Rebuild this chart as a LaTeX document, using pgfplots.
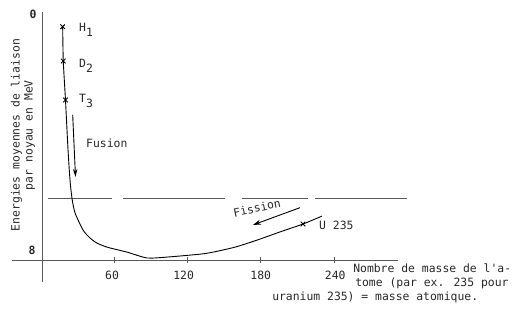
\documentclass[border=0pt]{standalone}
\usepackage{pgfplots}
\pgfplotsset{compat=1.18}
\usepackage{fontspec}
\setmainfont[Ligatures=TeXOff]{DejaVu Sans Mono}
\usetikzlibrary{arrows.meta}
\definecolor{ink}{RGB}{40,40,40}
\definecolor{pencil}{RGB}{90,90,90}
\begin{document}
\begin{tikzpicture}[every node/.style={font=\fontsize{11.4bp}{13bp}\selectfont, text=ink, inner sep=0pt}]
\begin{axis}[
  width=517bp, height=309bp, scale only axis,
  xmin=-33.27, xmax=389.7,
  ymin=-0.4786, ymax=10.085, y dir=reverse,
  hide axis, clip=false,
]
\path (rel axis cs:0,0) rectangle (rel axis cs:1,1);
% axes
\addplot[pencil, line width=0.8bp] coordinates {(-23.4,8.41) (292.4,8.41)};
\addplot[pencil, line width=0.8bp] coordinates {(1.09,-0.068) (1.09,9.16)};
% ticks
\addplot[pencil, line width=0.8bp] coordinates {(60,8.31) (60,8.51)};
\addplot[pencil, line width=0.8bp] coordinates {(120,8.31) (120,8.51)};
\addplot[pencil, line width=0.8bp] coordinates {(180,8.31) (180,8.51)};
\addplot[pencil, line width=0.8bp] coordinates {(240,8.31) (240,8.51)};
% dashed reference line
\addplot[pencil, line width=0.7bp] coordinates {(6.0,6.29) (58.4,6.29)};
\addplot[pencil, line width=0.7bp] coordinates {(67.4,6.29) (150.8,6.29)};
\addplot[pencil, line width=0.7bp] coordinates {(164.7,6.29) (218.7,6.29)};
\addplot[pencil, line width=0.7bp] coordinates {(224.5,6.29) (299.7,6.29)};
% curve
\addplot[black, line width=0.9bp, smooth, tension=0.4] coordinates {
(18.0,0.434) (18.5,1.607) (20.3,2.94) (22.4,4.65) (24.0,5.68) (25.6,6.29)
(28.1,6.80) (34.6,7.38) (40.4,7.66) (46.1,7.83) (54.3,7.97) (70.6,8.14)
(87.0,8.34) (103.4,8.31) (130.4,8.21) (141.1,8.14) (159.0,7.97) (177.0,7.73)
(195.8,7.45) (214.6,7.18) (230.1,6.91)};
% markers
\addplot[black, only marks, mark=x, mark size=3.2bp, line width=0.9bp] coordinates {
(18.0,0.434) (18.5,1.607) (20.3,2.94) (214.6,7.18)};
% arrows
\addplot[black, line width=0.9bp, -{Stealth[length=8bp,width=4.5bp]}] coordinates {(26.2,3.45) (28.5,5.57)};
\addplot[black, line width=0.9bp, -{Stealth[length=8bp,width=5bp]}] coordinates {(212.2,6.62) (173.7,7.21)};
% labels
\node[anchor=base west] at (axis cs:31.4,0.615) {H\raisebox{-5bp}{1}};
\node[anchor=base west] at (axis cs:31.4,1.846) {D\raisebox{-5bp}{2}};
\node[anchor=base west] at (axis cs:31.4,3.04) {T\raisebox{-5bp}{3}};
\node[anchor=base west] at (axis cs:37.1,4.55) {Fusion};
\node[rotate=12] at (axis cs:177.0,6.63) {Fission};
\node[anchor=base west] at (axis cs:227.7,7.38) {U 235};
\node at (axis cs:-6.25,0) {\textbf{0}};
\node at (axis cs:-7.1,8.07) {\textbf{8}};
\node at (axis cs:58.4,8.92) {60};
\node at (axis cs:117,8.92) {120};
\node at (axis cs:180,8.92) {180};
\node at (axis cs:241,8.92) {240};
\node[rotate=90, align=center, font=\fontsize{11.4bp}{13bp}\selectfont] at (axis cs:-14.5,4.14) {Energies moyennes de liaison\\par noyau en MeV};
\node[anchor=base west] at (axis cs:255.6,8.85) {Nombre de masse de l'a-};
\node[anchor=base west] at (axis cs:257.2,9.30) {tome (par ex. 235 pour};
\node[anchor=base west] at (axis cs:189.3,9.81) {uranium 235) = masse atomique.};
\end{axis}
\end{tikzpicture}
\end{document}
